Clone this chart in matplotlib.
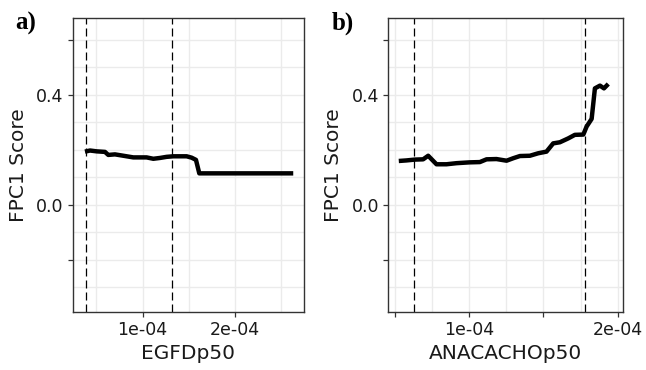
import matplotlib
matplotlib.use("Agg")
import matplotlib.pyplot as plt
import numpy as np

# panel a data (x in units of 1e-4)
egf_x = [0.375, 0.430, 0.502, 0.592, 0.628, 0.700, 0.755, 0.827, 0.899, 1.043,
         1.116, 1.188, 1.260, 1.332, 1.477, 1.531, 1.578, 1.614, 2.632]
egf_y = [0.194, 0.198, 0.195, 0.193, 0.182, 0.184, 0.181, 0.177, 0.173, 0.173,
         0.168, 0.171, 0.175, 0.177, 0.177, 0.172, 0.164, 0.115, 0.115]
egf_vlines = [0.386, 1.321]

# panel b data
ana_x = [0.526, 0.578, 0.634, 0.690, 0.724, 0.780, 0.847, 0.915, 1.004, 1.072,
         1.117, 1.184, 1.252, 1.297, 1.342, 1.409, 1.465, 1.521, 1.566, 1.611,
         1.667, 1.712, 1.769, 1.791, 1.825, 1.847, 1.881, 1.908, 1.937]
ana_y = [0.160, 0.162, 0.165, 0.166, 0.179, 0.148, 0.148, 0.152, 0.155, 0.156,
         0.166, 0.167, 0.161, 0.170, 0.178, 0.179, 0.188, 0.194, 0.224, 0.228,
         0.242, 0.255, 0.256, 0.285, 0.313, 0.424, 0.434, 0.424, 0.440]
ana_vlines = [0.631, 1.780]

ytick_vals = [-0.2, 0.0, 0.4, 0.6]
ytick_labels = ["", "0.0", "0.4", ""]

grid_col = "#EBEBEB"
dark = "#333333"


def style_axes(ax, xlim, xticks, xlabels, xgrid, xlab):
    ax.set_xlim(*xlim)
    ax.set_ylim(-0.388, 0.681)
    for gx in xgrid:
        ax.axvline(gx * 1e-4, color=grid_col, lw=1.0, zorder=0)
    for gy in np.arange(-0.3, 0.65, 0.1):
        ax.axhline(gy, color=grid_col, lw=1.0, zorder=0)
    ax.set_xticks([t * 1e-4 for t in xticks])
    ax.set_xticklabels(xlabels)
    ax.set_yticks(ytick_vals)
    ax.set_yticklabels(ytick_labels)
    ax.tick_params(axis="both", direction="out", length=3.5, width=0.9,
                   color=dark, labelsize=12.5, labelcolor="#1a1a1a", pad=3)
    for sp in ax.spines.values():
        sp.set_color(dark)
        sp.set_linewidth(1.0)
    ax.set_xlabel(xlab, fontsize=14.5, color="#1a1a1a", labelpad=4)
    ax.set_ylabel("FPC1 Score", fontsize=14.5, color="#1a1a1a", labelpad=6)


fig = plt.figure(figsize=(6.46, 3.70), dpi=100)
ax1 = fig.add_axes([0.1125, 0.1576, 0.358, 0.7946])
ax2 = fig.add_axes([0.601, 0.1576, 0.3638, 0.7946])

style_axes(ax1, (0.242e-4, 2.748e-4), [1, 2], ["1e-04", "2e-04"],
           [0.5, 1.0, 1.5, 2.0, 2.5], "EGFDp50")
ax1.plot(np.array(egf_x) * 1e-4, egf_y, color="black", lw=3.2,
         solid_capstyle="butt", zorder=3)
for v in egf_vlines:
    ax1.axvline(v * 1e-4, color="black", lw=0.9, ls=(0, (6.4, 3.2)), zorder=2)

style_axes(ax2, (0.455e-4, 2.038e-4), [0.5, 1.0, 1.5, 2.0], ["", "1e-04", "", "2e-04"],
           [0.5, 0.75, 1.0, 1.25, 1.5, 1.75, 2.0], "ANACACHOp50")
ax2.plot(np.array(ana_x) * 1e-4, ana_y, color="black", lw=3.2,
         solid_capstyle="butt", zorder=3)
for v in ana_vlines:
    ax2.axvline(v * 1e-4, color="black", lw=0.9, ls=(0, (6.4, 3.2)), zorder=2)

fig.text(15 / 646, 1 - 30 / 370, "a)", fontsize=18, fontweight="bold",
         family="Liberation Serif")
fig.text(332 / 646, 1 - 30 / 370, "b)", fontsize=18, fontweight="bold",
         family="Liberation Serif")

fig.savefig("out.png", dpi=100)
